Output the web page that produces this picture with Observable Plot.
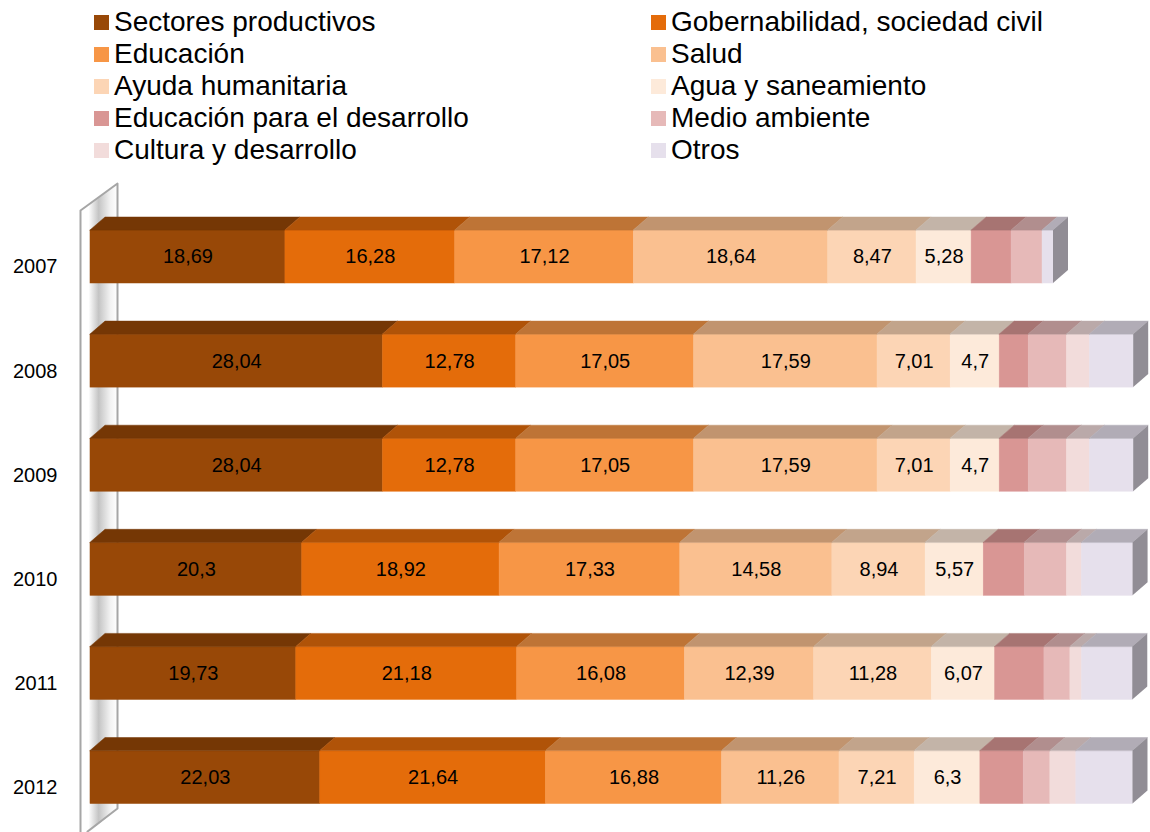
<!DOCTYPE html>
<html>
<head>
<meta charset="utf-8">
<script src="https://cdn.jsdelivr.net/npm/d3@7"></script>
<script src="https://cdn.jsdelivr.net/npm/@observablehq/plot@0.6"></script>
<style>
  body { margin: 0; background: #fff; font-family: "Liberation Sans", Arial, sans-serif; }
  #legend { position: relative; width: 1150px; height: 166px; }
  .item { position: absolute; display: flex; align-items: center; height: 32px; font-size: 28px; color: #000; white-space: nowrap; }
  .sw { width: 15px; height: 15px; margin-right: 5px; flex: none; }
  #chart svg { display: block; }
</style>
</head>
<body>
<div id="legend"></div>
<div id="chart"></div>
<script>
// ---- data ----
const years = ["2007", "2008", "2009", "2010", "2011", "2012"];
const categories = [
  "Sectores productivos", "Gobernabilidad, sociedad civil",
  "Educación", "Salud",
  "Ayuda humanitaria", "Agua y saneamiento",
  "Educación para el desarrollo", "Medio ambiente",
  "Cultura y desarrollo", "Otros"
];
const colors = ["#984807", "#e46c0a", "#f79646", "#fac090", "#fcd5b5",
                "#fdeada", "#d99694", "#e6b9b8", "#f2dcdb", "#e6e0ec"];
const sectoresProductivos = [18.69, 28.04, 28.04, 20.3, 19.73, 22.03];
const gobernabilidad      = [16.28, 12.78, 12.78, 18.92, 21.18, 21.64];
const educacion           = [17.12, 17.05, 17.05, 17.33, 16.08, 16.88];
const salud               = [18.64, 17.59, 17.59, 14.58, 12.39, 11.26];
const ayudaHumanitaria    = [8.47, 7.01, 7.01, 8.94, 11.28, 7.21];
const aguaSaneamiento     = [5.28, 4.7, 4.7, 5.57, 6.07, 6.3];
const educacionDesarrollo = [3.83, 2.78, 2.78, 3.93, 4.73, 4.15];
const medioAmbiente       = [2.97, 3.67, 3.67, 4.05, 2.49, 2.56];
const culturaDesarrollo   = [0, 2.2, 2.2, 1.44, 1.12, 2.49];
const otros               = [1.05, 4.2, 4.2, 4.9, 4.86, 5.43];
const labeledCount = 6; // first six series carry value labels

const series = [sectoresProductivos, gobernabilidad, educacion, salud, ayudaHumanitaria,
                aguaSaneamiento, educacionDesarrollo, medioAmbiente, culturaDesarrollo, otros];

// ---- legend (HTML, above the SVG) ----
const legend = document.getElementById("legend");
categories.forEach((c, j) => {
  const d = document.createElement("div");
  d.className = "item";
  d.style.left = (j % 2 === 0 ? 94 : 651) + "px";
  d.style.top = (6 + 32 * Math.floor(j / 2)) + "px";
  d.innerHTML = `<span class="sw" style="background:${colors[j]}"></span><span>${c}</span>`;
  legend.appendChild(d);
});

// ---- geometry (style) ----
const W = 1150, H = 666;
const xRange = [90, 1133];
const yRange = [90.5, 611];
const nRows = years.length;
const pxX = p => p * 100 / (xRange[1] - xRange[0]);
const pxY = p => p * (nRows - 1) / (yRange[1] - yRange[0]);
const atX = p => pxX(p - xRange[0]);
const atY = p => pxY(p - yRange[0]);
const half = pxY(26.5), depthX = pxX(15), depthY = pxY(13);
const shade = (c, k) => { const r = d3.rgb(c); return d3.rgb(r.r * k, r.g * k, r.b * k).formatHex(); };

const segs = [], tops = [], sides = [];
years.forEach((y, i) => {
  let acc = 0;
  series.forEach((s, j) => {
    const v = s[i];
    const seg = {row: i, cat: j, v, x1: acc, x2: acc + v, fill: colors[j]};
    segs.push(seg);
    if (v > 0) {
      const key = i + "-" + j, tf = shade(colors[j], 0.77);
      tops.push({key, x1: acc, x2: acc + v, y: i - half, fill: tf});
      tops.push({key, x1: acc + depthX, x2: acc + v + depthX, y: i - half - depthY, fill: tf});
    }
    acc += v;
  });
  sides.push({row: i, x: acc, y1: i + half, y2: i - half});
  sides.push({row: i, x: acc + depthX, y1: i + half - depthY, y2: i - half - depthY});
});
const labels = segs.filter(s => s.cat < labeledCount).map(s => ({
  x: (s.x1 + s.x2) / 2, y: s.row, t: String(s.v).replace(".", ",")
}));

// wall (decorative back panel on the left)
const wallFace = [[88, 38], [117, 17], [117, 642], [88, 666], [88, 38]].map(([a, b]) => ({x: atX(a), y: atY(b)}));
const wallLine = [[80, 666], [80, 44], [117, 17], [117, 642], [87, 665]].map(([a, b]) => ({x: atX(a), y: atY(b)}));

const chart = Plot.plot({
  width: W, height: H,
  marginLeft: xRange[0], marginRight: W - xRange[1], marginTop: 0, marginBottom: 0,
  x: {domain: [0, 100], range: xRange, axis: null},
  y: {domain: [0, nRows - 1], range: yRange},
  color: {type: "identity"},
  style: {fontFamily: "'Liberation Sans', Arial, sans-serif", background: "#fff", color: "#000"},
  marks: [
    Plot.line(wallFace, {x: "x", y: "y", fill: "url(#wallGrad)", stroke: "none"}),
    Plot.line(wallLine, {x: "x", y: "y", fill: "none", stroke: "#a6a6a6", strokeWidth: 2}),
    Plot.rect(segs, {x1: "x1", x2: "x2", y1: d => d.row - half, y2: d => d.row + half, fill: "fill", stroke: "fill", strokeWidth: 0.5}),
    Plot.areaX(tops, {x1: "x1", x2: "x2", y: "y", z: "key", fill: "fill", stroke: "fill", strokeWidth: 0.5}),
    Plot.areaY(sides, {x: "x", y1: "y1", y2: "y2", z: "row", fill: shade(colors[9], 0.63)}),
    Plot.text(labels, {x: "x", y: "y", text: "t", fontSize: 20, fill: "#000"}),
    Plot.axisY(d3.range(nRows), {tickFormat: i => years[i], tickSize: 0, tickPadding: 33, dy: 10, fontSize: 20, anchor: "left"})
  ]
});

const defs = d3.select(chart).insert("defs", ":first-child");
const g = defs.append("linearGradient").attr("id", "wallGrad").attr("x1", "0%").attr("x2", "100%").attr("y1", "0%").attr("y2", "0%");
[[0, "#ffffff"], [0.35, "#c4c4c4"], [0.75, "#f2f2f2"], [1, "#ffffff"]].forEach(([o, c]) =>
  g.append("stop").attr("offset", o).attr("stop-color", c));

document.getElementById("chart").appendChild(chart);
</script>
</body>
</html>
